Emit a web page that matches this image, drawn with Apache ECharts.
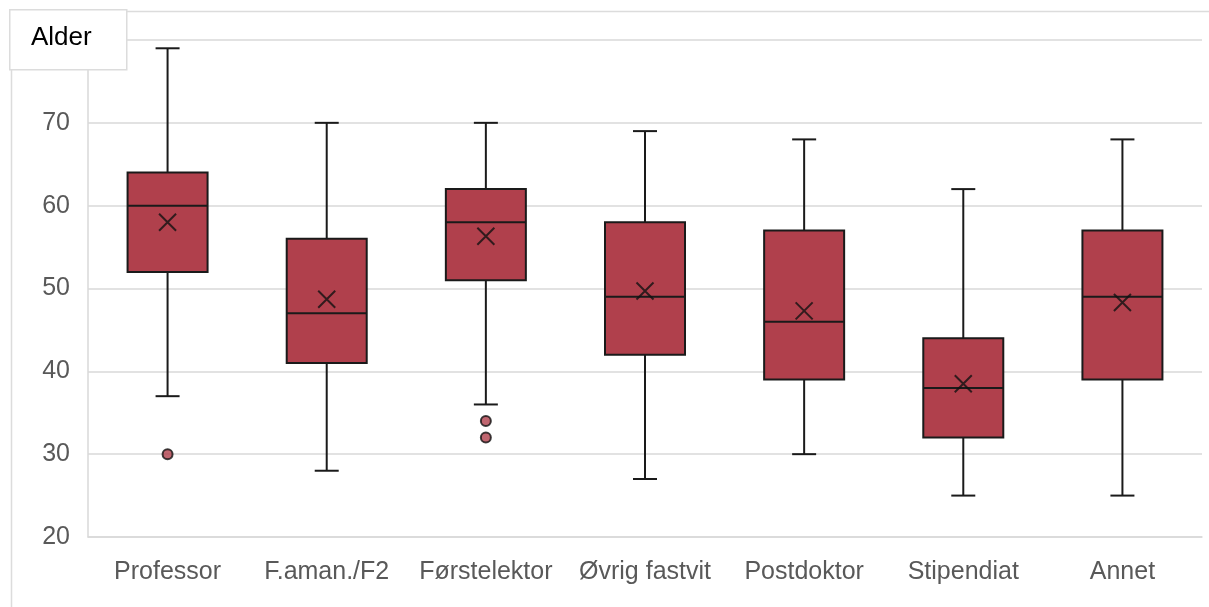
<!DOCTYPE html>
<html>
<head>
<meta charset="utf-8">
<script src="https://cdn.jsdelivr.net/npm/echarts@6/dist/echarts.min.js"></script>
<style>
  html, body { margin: 0; padding: 0; background: #fff; }
  #main { width: 1209px; height: 607px; }
</style>
</head>
<body>
<div id="main"></div>
<script>
var categories = ['Professor', 'F.aman./F2', 'Førstelektor', 'Øvrig fastvit', 'Postdoktor', 'Stipendiat', 'Annet'];
var minVals = [37, 28, 36, 27, 30, 25, 25];
var q1Vals = [52, 41, 51, 42, 39, 32, 39];
var medianVals = [60, 47, 58, 49, 46, 38, 49];
var q3Vals = [64, 56, 62, 58, 57, 44, 57];
var maxVals = [79, 70, 70, 69, 68, 62, 68];
var meanVals = [58, 48.7, 56.3, 49.7, 47.3, 38.5, 48.3];
var outliers = [[0, 30], [2, 34], [2, 32]];

var boxColor = '#b0404c';

var boxData = categories.map(function (c, i) {
  return [i, minVals[i], q1Vals[i], medianVals[i], q3Vals[i], maxVals[i]];
});

var chart = echarts.init(document.getElementById('main'));

function renderBox(params, api) {
  var x = api.value(0);
  var lo = api.coord([x, api.value(1)]);
  var q1 = api.coord([x, api.value(2)]);
  var med = api.coord([x, api.value(3)]);
  var q3 = api.coord([x, api.value(4)]);
  var hi = api.coord([x, api.value(5)]);
  var cx = lo[0];
  var bw = 80, cw = 24;
  var ls = { stroke: '#1a1a1a', lineWidth: 2 };
  return {
    type: 'group',
    children: [
      { type: 'line', shape: { x1: cx, y1: hi[1], x2: cx, y2: q3[1] }, style: ls },
      { type: 'line', shape: { x1: cx, y1: q1[1], x2: cx, y2: lo[1] }, style: ls },
      { type: 'line', shape: { x1: cx - cw / 2, y1: hi[1], x2: cx + cw / 2, y2: hi[1] }, style: ls },
      { type: 'line', shape: { x1: cx - cw / 2, y1: lo[1], x2: cx + cw / 2, y2: lo[1] }, style: ls },
      { type: 'rect', shape: { x: cx - bw / 2, y: q3[1], width: bw, height: q1[1] - q3[1] },
        style: { fill: boxColor, stroke: '#1a1a1a', lineWidth: 2 } },
      { type: 'line', shape: { x1: cx - bw / 2, y1: med[1], x2: cx + bw / 2, y2: med[1] }, style: ls }
    ]
  };
}

var option = {
  animation: false,
  grid: { left: 88, right: 7, top: 40, bottom: 70, containLabel: false },
  xAxis: {
    type: 'category',
    data: categories,
    axisLine: { show: true, lineStyle: { color: '#d9d9d9', width: 1.5 } },
    axisTick: { show: false },
    axisLabel: { interval: 0, hideOverlap: false, color: '#595959', fontSize: 25, margin: 23, fontFamily: 'Liberation Sans' }
  },
  yAxis: {
    type: 'value',
    min: 20,
    max: 80,
    interval: 10,
    axisLine: { show: true, lineStyle: { color: '#d9d9d9', width: 1.5 } },
    axisTick: { show: false },
    axisLabel: {
      color: '#595959', fontSize: 25, margin: 18, fontFamily: 'Liberation Sans',
      formatter: function (v) { return v === 80 ? '' : v; }
    },
    splitLine: { lineStyle: { color: '#d9d9d9', width: 1.5 } }
  },
  graphic: [
    { type: 'rect', left: 9, top: 9, z: 100,
      shape: { width: 1220, height: 620 },
      style: { fill: 'none', stroke: '#dcdcdc', lineWidth: 1.5 } },
    { type: 'rect', left: 9, top: 9, z: 101,
      shape: { width: 117, height: 60 },
      style: { fill: '#fff', stroke: '#dcdcdc', lineWidth: 1.5 } },
    { type: 'text', left: 31, top: 25, z: 102,
      style: { text: 'Alder', fill: '#000', font: '26px "Liberation Sans"' } }
  ],
  series: [
    {
      type: 'custom',
      renderItem: renderBox,
      data: boxData,
      encode: { x: 0, y: [1, 2, 3, 4, 5] },
      z: 3
    },
    {
      type: 'scatter',
      data: meanVals.map(function (v, i) { return [i, v]; }),
      symbol: 'path://M0,0L10,10M10,0L0,10',
      symbolSize: 17,
      itemStyle: { color: 'none', borderColor: '#111', borderWidth: 2 },
      z: 5
    },
    {
      type: 'scatter',
      data: outliers,
      symbol: 'circle',
      symbolSize: 10,
      itemStyle: { color: boxColor, borderColor: '#111', borderWidth: 2 },
      z: 5
    }
  ]
};

chart.setOption(option);
</script>
</body>
</html>
